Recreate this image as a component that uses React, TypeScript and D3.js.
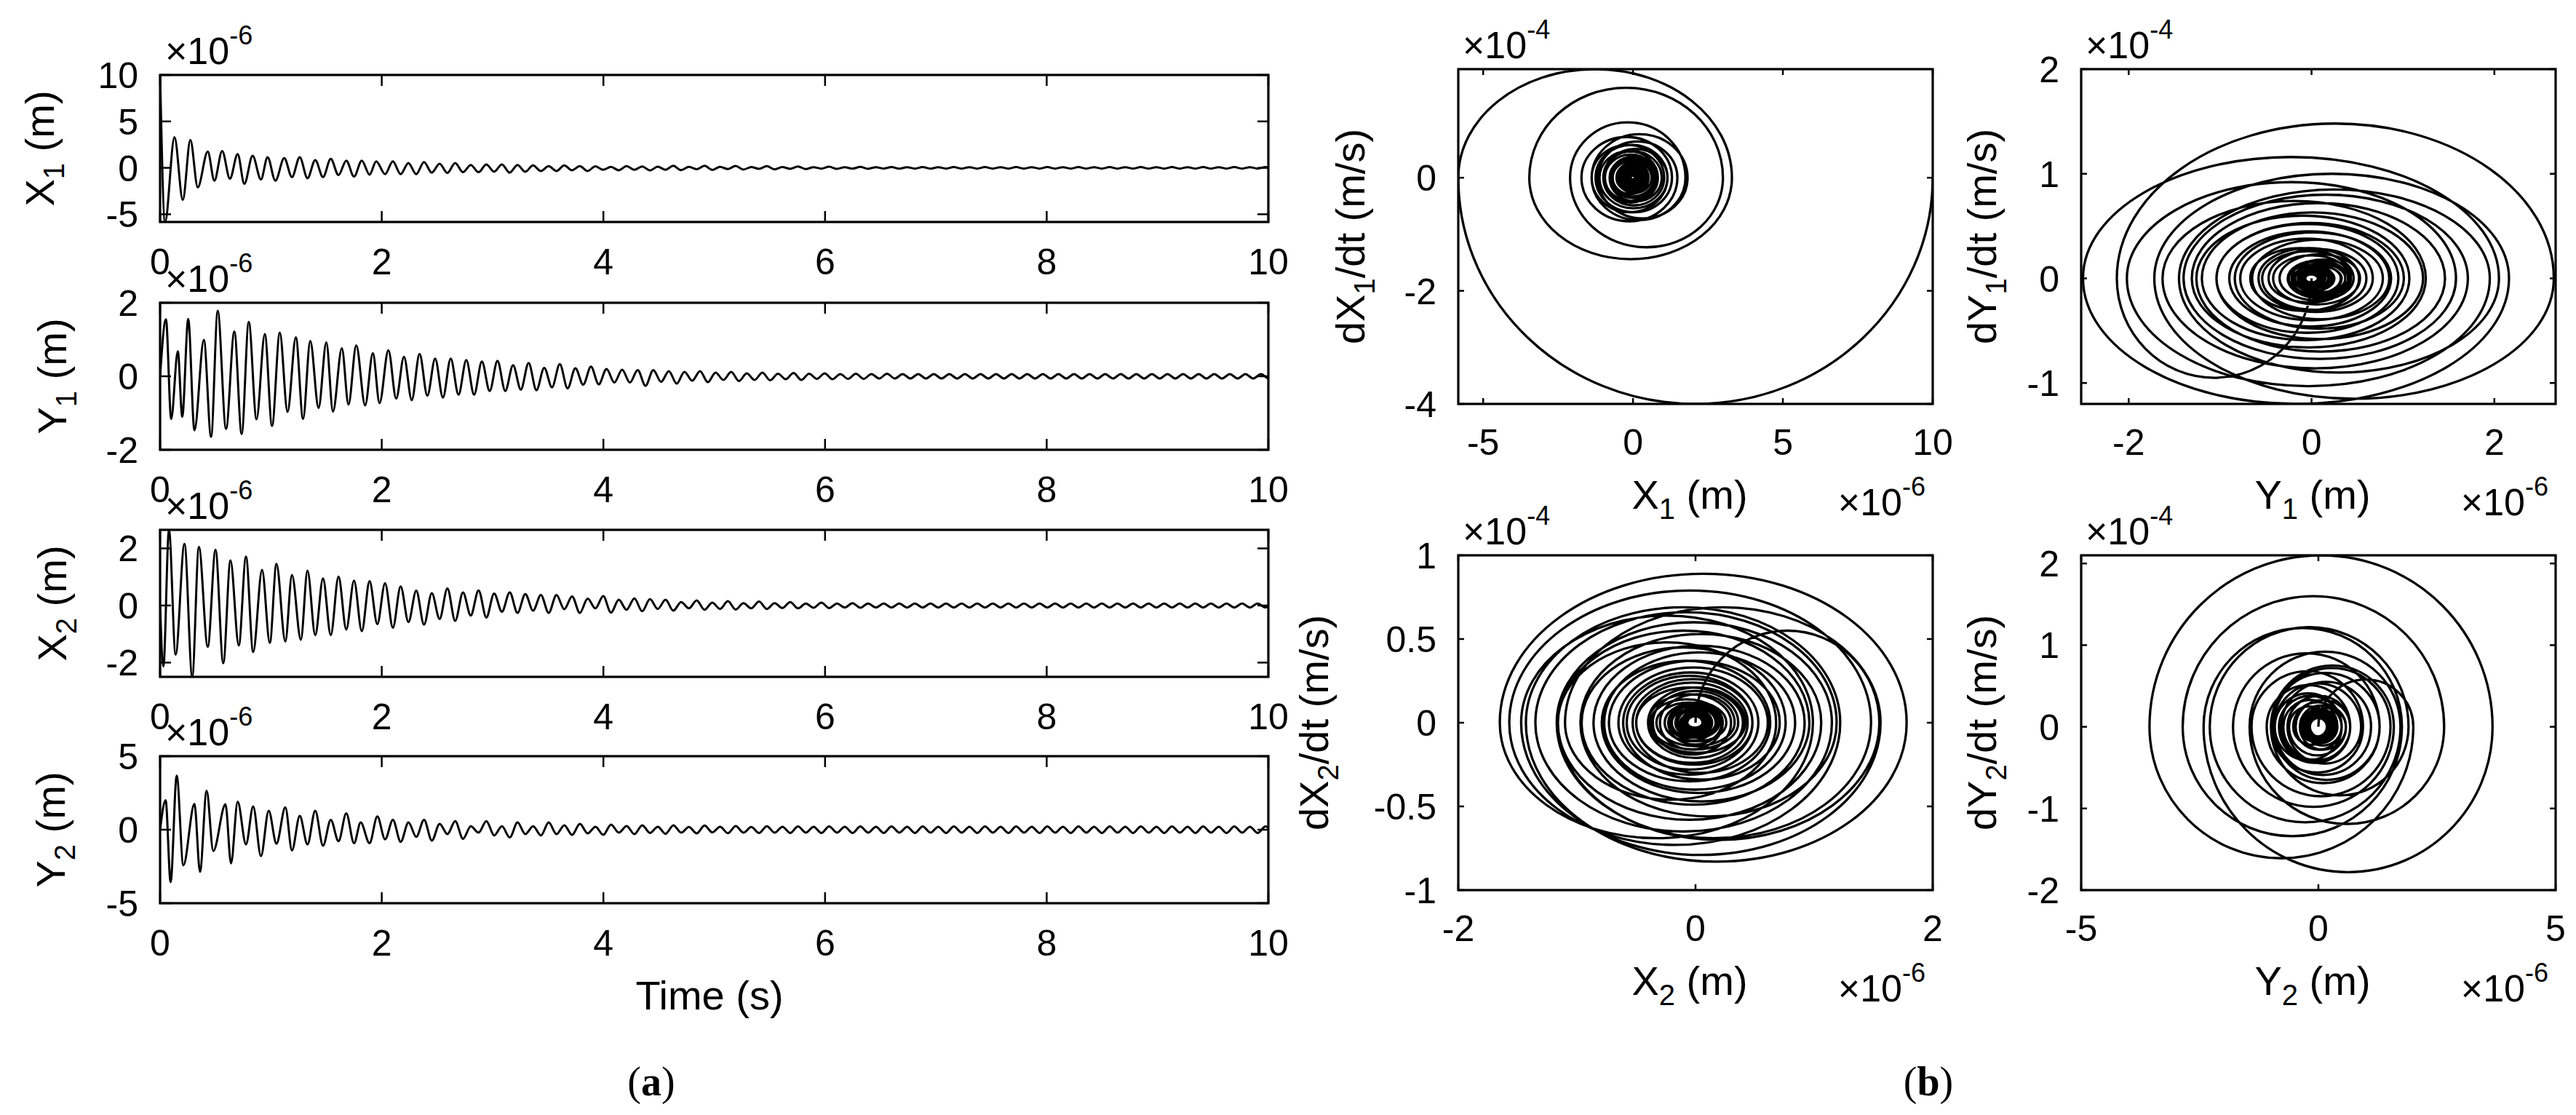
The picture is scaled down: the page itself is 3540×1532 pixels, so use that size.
import React from 'react';
import * as d3 from 'd3';

// ---------------- DATA (values in 1e-6 m and 1e-4 m/s) ----------------
const HALF_PERIOD = 0.0703; // s, spacing of the later extrema

const timeTicks = [0, 2, 4, 6, 8, 10];

// X1 time series extrema
const x1EarlyT = [0, 0.045, 0.13, 0.205, 0.273, 0.34, 0.43, 0.49, 0.56, 0.63, 0.7, 0.76, 0.835, 0.91, 0.97, 1.04, 1.12, 1.19, 1.26, 1.33, 1.4, 1.47, 1.54, 1.61, 1.68, 1.75, 1.82, 1.89, 1.95, 2.03, 2.1];
const x1EarlyV = [10, -5.83, 3.3, -3.46, 3.0, -2.1, 1.75, -1.38, 1.82, -1.17, 1.48, -1.72, 1.3, -1.25, 1.15, -1.38, 1.04, -0.99, 1.15, -1.12, 0.83, -0.99, 0.96, -0.78, 0.78, -0.94, 0.78, -0.73, 0.7, -0.68, 0.7];
const x1Late = [-0.68, 0.52, -0.68, 0.62, -0.52, 0.44, -0.55, 0.52, -0.47, 0.31, -0.47, 0.36, -0.42, 0.36, -0.52, 0.31, -0.42, 0.26, -0.34, 0.18, -0.34, 0.26, -0.26, 0.18, -0.34, 0.16, -0.21, 0.1, -0.26, 0.18, -0.21, 0.15,
  -0.28, 0.12, -0.2, 0.22, -0.25, 0.1, -0.15, 0.22, -0.22, 0.1, -0.12, 0.2, -0.18, 0.08, -0.1, 0.18, -0.16, 0.08, -0.1, 0.15, -0.13, 0.07, -0.08, 0.12, -0.11, 0.06, -0.08, 0.1, -0.1, 0.07,
  -0.08, 0.09, -0.09, 0.07, -0.08, 0.08, -0.09, 0.07, -0.08, 0.08, -0.08, 0.07, -0.08, 0.08, -0.08, 0.07, -0.08, 0.08, -0.08, 0.07, -0.08, 0.08, -0.08, 0.07, -0.08, 0.08, -0.08, 0.07, -0.08, 0.08,
  -0.08, 0.07, -0.08, 0.08, -0.08, 0.07, -0.08, 0.08, -0.08, 0.07, -0.08, 0.08, -0.08, 0.07, -0.08, 0.08, -0.08, 0.07, -0.08, 0.08, -0.08, 0.07, -0.08, 0.08];

// Y1 time series extrema
const y1EarlyT = [0, 0.053, 0.1, 0.16, 0.2, 0.254, 0.31, 0.395, 0.46, 0.52, 0.595, 0.67, 0.736, 0.8, 0.87, 0.945, 1.01, 1.08, 1.15, 1.225, 1.29, 1.355, 1.43, 1.5, 1.56, 1.64, 1.7, 1.77, 1.85, 1.92, 1.98, 2.06];
const y1EarlyV = [0, 1.55, -1.16, 0.68, -1.1, 1.56, -1.47, 0.99, -1.65, 1.78, -1.43, 1.22, -1.57, 1.48, -1.17, 1.15, -1.35, 1.19, -0.97, 1.06, -1.16, 0.96, -0.86, 0.92, -0.96, 0.76, -0.77, 0.84, -0.79, 0.63, -0.73, 0.71];
const y1Late = [-0.61, 0.53, -0.65, 0.61, -0.53, 0.48, -0.58, 0.48, -0.5, 0.44, -0.5, 0.4, -0.4, 0.42, -0.4, 0.3, -0.36, 0.36, -0.38, 0.23, -0.3, 0.33, -0.33, 0.22, -0.23, 0.26, -0.22, 0.2, -0.17, 0.18, -0.17, 0.17, -0.26, 0.17,
  -0.15, 0.14, -0.2, 0.12, -0.12, 0.14, -0.16, 0.1, -0.1, 0.12, -0.13, 0.08, -0.1, 0.1, -0.11, 0.07, -0.08, 0.09, -0.1, 0.07, -0.07, 0.08, -0.08, 0.06, -0.07, 0.07, -0.07, 0.06, -0.06, 0.07,
  -0.06, 0.06, -0.06, 0.06, -0.06, 0.06, -0.06, 0.06, -0.06, 0.06, -0.06, 0.06, -0.06, 0.06, -0.06, 0.06, -0.06, 0.06, -0.06, 0.06, -0.06, 0.06, -0.06, 0.06, -0.06, 0.06, -0.06, 0.06,
  -0.06, 0.06, -0.06, 0.06, -0.06, 0.06, -0.06, 0.06, -0.06, 0.06, -0.06, 0.06, -0.06, 0.06, -0.06, 0.06, -0.06, 0.06, -0.06, 0.06, -0.06, 0.06];

// X2 time series extrema
const x2EarlyT = [0, 0.03, 0.08, 0.14, 0.22, 0.29, 0.35, 0.43, 0.5, 0.57, 0.635, 0.71, 0.775, 0.84, 0.92, 0.99, 1.05, 1.13, 1.19, 1.27, 1.33, 1.4, 1.47, 1.54, 1.61, 1.68, 1.75, 1.82, 1.89, 1.96, 2.03];
const x2EarlyV = [0, -2.13, 2.65, -1.72, 2.16, -2.5, 2.05, -1.45, 1.95, -2.02, 1.58, -1.4, 1.71, -1.63, 1.25, -1.31, 1.46, -1.26, 1.07, -1.2, 1.22, -1.04, 0.95, -1.04, 1.01, -0.84, 0.87, -0.9, 0.85, -0.65, 0.78];
const x2Late = [-0.78, 0.67, -0.58, 0.52, -0.67, 0.43, -0.47, 0.6, -0.54, 0.46, -0.35, 0.53, -0.42, 0.42, -0.22, 0.46, -0.26, 0.4, -0.18, 0.37, -0.26, 0.37, -0.13, 0.32, -0.26, 0.24, -0.1, 0.33, -0.25, 0.2, -0.15, 0.25, -0.2,
  0.22, -0.12, 0.2, -0.18, 0.12, -0.1, 0.18, -0.15, 0.1, -0.12, 0.15, -0.14, 0.08, -0.1, 0.14, -0.12, 0.08, -0.09, 0.12, -0.1, 0.07, -0.08, 0.1, -0.09, 0.07, -0.07, 0.08, -0.08, 0.07, -0.07,
  0.07, -0.07, 0.07, -0.07, 0.07, -0.07, 0.07, -0.07, 0.07, -0.07, 0.07, -0.07, 0.07, -0.07, 0.07, -0.07, 0.07, -0.07, 0.07, -0.07, 0.07, -0.07, 0.07, -0.07, 0.07, -0.07, 0.07, -0.07,
  0.07, -0.07, 0.07, -0.07, 0.07, -0.07, 0.07, -0.07, 0.07, -0.07, 0.07, -0.07, 0.07, -0.07, 0.07, -0.07, 0.07, -0.07, 0.07, -0.07, 0.07, -0.07, 0.07, -0.07];

// Y2 time series extrema
const y2EarlyT = [0, 0.05, 0.095, 0.15, 0.21, 0.31, 0.36, 0.42, 0.48, 0.59, 0.64, 0.7, 0.775, 0.84, 0.91, 0.98, 1.05, 1.13, 1.19, 1.26, 1.33, 1.4, 1.47, 1.54, 1.61, 1.68, 1.75, 1.81, 1.89, 1.96];
const y2EarlyV = [0, 2.0, -3.56, 3.67, -2.42, 1.76, -2.86, 2.65, -1.45, 1.73, -2.29, 1.9, -1.0, 1.59, -1.8, 1.29, -0.95, 1.52, -1.41, 0.94, -1.0, 1.29, -1.09, 0.67, -0.78, 1.11, -0.92, 0.49, -0.92, 0.9];
const y2Late = [-0.65, 0.67, -0.83, 0.49, -0.48, 0.67, -0.74, 0.4, -0.3, 0.58, -0.62, 0.23, -0.2, 0.58, -0.39, 0.23, -0.53, 0.49, -0.3, 0.23, -0.39, 0.49, -0.3, 0.3, -0.35, 0.4, -0.25, 0.2, -0.35, 0.35, -0.2, 0.25, -0.3,
  0.3, -0.22, 0.2, -0.28, 0.3, -0.2, 0.18, -0.25, 0.28, -0.18, 0.2, -0.24, 0.25, -0.2, 0.18, -0.22, 0.24, -0.2, 0.2, -0.22, 0.22, -0.2, 0.2, -0.22, 0.22, -0.2, 0.2, -0.22, 0.22, -0.2,
  0.2, -0.22, 0.22, -0.2, 0.2, -0.22, 0.22, -0.2, 0.2, -0.22, 0.22, -0.2, 0.2, -0.22, 0.22, -0.2, 0.2, -0.22, 0.22, -0.2, 0.2, -0.22, 0.22, -0.2, 0.2, -0.22, 0.22, -0.2,
  0.2, -0.22, 0.22, -0.2, 0.2, -0.22, 0.22, -0.2, 0.2, -0.22, 0.22, -0.2, 0.2, -0.22, 0.22, -0.2, 0.2, -0.22, 0.22, -0.2, 0.2, -0.22, 0.22, -0.2];

// velocity extrema between successive displacement extrema (1e-4 m/s), for the phase portraits
const vX1 = [-4.0, 1.92, -1.44, 1.59, -1.23, 0.98, -0.75, 0.77, -0.72, 0.64, -0.77, 0.72, -0.61, 0.58, -0.61, 0.58, -0.49, 0.51, -0.54, 0.47, -0.44, 0.47, -0.42, 0.37, -0.41, 0.41, -0.36, 0.34, -0.33, 0.33, -0.33, 0.29, -0.29, 0.31, -0.27, 0.23, -0.24, 0.26, -0.24, 0.19, -0.19, 0.2, -0.19, 0.19, -0.21, 0.2, -0.18, 0.16, -0.14, 0.12, -0.12, 0.14, -0.12, 0.11, -0.12, 0.12, -0.09, 0.07, -0.09, 0.11, -0.09, 0.09,
  -0.1, 0.1, -0.08, 0.1, -0.11, 0.08, -0.06, 0.09, -0.11, 0.08, -0.05, 0.08, -0.09, 0.06, -0.04, 0.07, -0.08, 0.06, -0.04, 0.06, -0.07, 0.05, -0.04, 0.05, -0.06, 0.04, -0.03, 0.04, -0.05, 0.04];
const vX2 = [-0.95, 1.48, -1.15, 1.0, -1.2, 1.16, -0.9, 0.85, -1.03, 0.92, -0.77, 0.8, -0.86, 0.74, -0.66, 0.72, -0.7, 0.6, -0.59, 0.63, -0.58, 0.52, -0.52, 0.53, -0.48, 0.44, -0.46, 0.45, -0.39, 0.37, -0.4, 0.38, -0.32, 0.29, -0.31, 0.29, -0.23, 0.28, -0.3, 0.26, -0.21, 0.23, -0.25, 0.22, -0.17, 0.18, -0.19, 0.17, -0.15, 0.14, -0.16, 0.16, -0.13, 0.12, -0.15, 0.13, -0.09, 0.11, -0.15, 0.12, -0.09, 0.1,
  -0.12, 0.11, -0.09, 0.08, -0.1, 0.08, -0.06, 0.07, -0.09, 0.07, -0.06, 0.07, -0.08, 0.06, -0.05, 0.06, -0.07, 0.05, -0.04, 0.05, -0.06, 0.04, -0.04, 0.05, -0.05, 0.04, -0.04, 0.04, -0.04, 0.04];
const vY1 = [0.55, -0.7, 0.48, -0.46, 0.69, -0.79, 0.64, -0.69, 0.89, -0.83, 0.69, -0.73, 0.79, -0.69, 0.6, -0.65, 0.66, -0.56, 0.53, -0.58, 0.55, -0.47, 0.46, -0.49, 0.45, -0.4, 0.42, -0.42, 0.37, -0.35, 0.37, -0.34, 0.3, -0.31, 0.33, -0.3, 0.26, -0.28, 0.28, -0.25, 0.24, -0.24, 0.21, -0.21, 0.21, -0.18, 0.17, -0.19, 0.19, -0.16, 0.14, -0.16, 0.17, -0.14, 0.12, -0.13, 0.12, -0.11, 0.1, -0.09, 0.09, -0.08,
  0.09, -0.11, 0.11, -0.08, 0.08, -0.09, 0.08, -0.06, 0.07, -0.08, 0.07, -0.05, 0.06, -0.07, 0.05, -0.05, 0.05, -0.05, 0.05, -0.04, 0.04, -0.05, 0.04, -0.04, 0.04, -0.04, 0.04, -0.03, 0.04, -0.04];
const vY2 = [0.58, -1.61, 2.1, -1.78, 1.21, -1.34, 1.6, -1.19, 0.92, -1.17, 1.22, -0.84, 0.75, -0.98, 0.9, -0.65, 0.72, -0.85, 0.68, -0.56, 0.66, -0.69, 0.51, -0.42, 0.55, -0.59, 0.41, -0.41, 0.53, -0.45, 0.38, -0.44, 0.38, -0.28, 0.33, -0.41, 0.33, -0.2, 0.26, -0.35, 0.25, -0.12, 0.23, -0.28, 0.18, -0.22, 0.3, -0.23, 0.15, -0.18, 0.26, -0.23, 0.17, -0.19, 0.22, -0.19, 0.13, -0.16, 0.2, -0.16, 0.13, -0.16,
  0.17, -0.15, 0.12, -0.14, 0.17, -0.15, 0.11, -0.12, 0.15, -0.13, 0.11, -0.13, 0.14, -0.13, 0.11, -0.12, 0.13, -0.13, 0.12, -0.12, 0.13, -0.12, 0.12, -0.12, 0.13, -0.12, 0.12, -0.12, 0.13, -0.12];

// axis limits and ticks
const x1Dom = [-5.83, 10]; const x1Ticks = [-5, 0, 5, 10];
const y1Dom = [-2, 2]; const y1Ticks = [-2, 0, 2];
const x2Dom = [-2.5, 2.65]; const x2Ticks = [-2, 0, 2];
const y2Dom = [-5, 5]; const y2Ticks = [-5, 0, 5];

const p1XDom = [-5.83, 10]; const p1XTicks = [-5, 0, 5, 10]; const p1YDom = [-4, 1.92]; const p1YTicks = [-4, -2, 0];
const p2XDom = [-2.52, 2.67]; const p2XTicks = [-2, 0, 2]; const p2YDom = [-1.2, 2]; const p2YTicks = [-1, 0, 1, 2];
const p3XDom = [-2, 2]; const p3XTicks = [-2, 0, 2]; const p3YDom = [-1, 1]; const p3YTicks = [-1, -0.5, 0, 0.5, 1];
const p4XDom = [-5, 5]; const p4XTicks = [-5, 0, 5]; const p4YDom = [-2, 2.1]; const p4YTicks = [-2, -1, 0, 1, 2];

// ---------------- LAYOUT ----------------
const W = 3540, HGT = 1532;
const FONT = '"Liberation Sans", Arial, Helvetica, sans-serif';
const TL = 220, TR = 1743, TH = 202;
const T_TOPS = [103, 416, 728, 1039];
const PW = 652, PH = 460;
const P_LEFTS = [2004, 2860];
const P_TOPS = [95, 763];
const TICK_FS = 50, LABEL_FS = 56, SUB_FS = 40, EXP_FS = 52, SUP_FS = 36;
const KAPPA = 0.5523; // quarter-ellipse bezier handle ratio

function buildSeries(earlyT: number[], earlyV: number[], late: number[]) {
  const pts: [number, number][] = earlyT.map((t, i) => [t, earlyV[i]]);
  const t0 = earlyT[earlyT.length - 1];
  late.forEach((v, i) => pts.push([t0 + (i + 1) * HALF_PERIOD, v]));
  return pts;
}

// points alternate: displacement extremum (x, 0) then velocity extremum (xm, v)
function buildPhase(earlyV: number[], late: number[], vs: number[]) {
  const xs = earlyV.concat(late);
  const n = Math.min(xs.length - 1, vs.length);
  const pts: [number, number][] = [];
  for (let k = 0; k < n; k++) {
    pts.push([xs[k], 0]);
    pts.push([(xs[k] + xs[k + 1]) / 2, vs[k]]);
  }
  pts.push([xs[n], 0]);
  return pts;
}

// quarter-ellipse arcs through the extrema, via d3.path
function phasePath(pts: [number, number][], xs: any, ys: any) {
  const p = d3.path();
  p.moveTo(xs(pts[0][0]), ys(pts[0][1]));
  for (let i = 0; i + 1 < pts.length; i++) {
    const [ax, ay] = pts[i];
    const [bx, by] = pts[i + 1];
    let c1x, c1y, c2x, c2y;
    if (i % 2 === 0) {
      c1x = ax; c1y = ay + KAPPA * (by - ay);
      c2x = bx + KAPPA * (ax - bx); c2y = by;
    } else {
      c1x = ax + KAPPA * (bx - ax); c1y = ay;
      c2x = bx; c2y = by + KAPPA * (ay - by);
    }
    p.bezierCurveTo(xs(c1x), ys(c1y), xs(c2x), ys(c2y), xs(bx), ys(by));
  }
  return p.toString();
}

const fmt = (v: number) => String(v);

function Exponent({ x, y, power, anchor = 'start' }: any) {
  return (
    <text x={x} y={y} fontSize={EXP_FS} textAnchor={anchor} fontFamily={FONT}>
      ×10<tspan dy={-27} fontSize={SUP_FS}>{power}</tspan>
    </text>
  );
}

function RotLabel({ x, y, main, sub, rest }: any) {
  return (
    <text transform={`translate(${x},${y}) rotate(-90)`} textAnchor="middle" fontSize={LABEL_FS} fontFamily={FONT}>
      {main}<tspan dy={14} fontSize={SUB_FS}>{sub}</tspan><tspan dy={-14}>{rest}</tspan>
    </text>
  );
}

function Axes({ id, left, top, width, height, xs, ys, xTicks, yTicks, tickLen, xTickBase, children }: any) {
  const bottom = top + height, right = left + width;
  return (
    <g>
      <defs>
        <clipPath id={id}><rect x={left} y={top} width={width} height={height} /></clipPath>
      </defs>
      <g clipPath={`url(#${id})`}>{children}</g>
      {xTicks.map((t: number) => (
        <g key={'x' + t}>
          <line x1={xs(t)} x2={xs(t)} y1={bottom} y2={bottom - tickLen} stroke="#000" strokeWidth={2.5} />
          <line x1={xs(t)} x2={xs(t)} y1={top} y2={top + tickLen} stroke="#000" strokeWidth={2.5} />
          <text x={xs(t)} y={bottom + xTickBase} textAnchor="middle" fontSize={TICK_FS} fontFamily={FONT}>{fmt(t)}</text>
        </g>
      ))}
      {yTicks.map((t: number) => (
        <g key={'y' + t}>
          <line x1={left} x2={left + tickLen} y1={ys(t)} y2={ys(t)} stroke="#000" strokeWidth={2.5} />
          <line x1={right} x2={right - tickLen} y1={ys(t)} y2={ys(t)} stroke="#000" strokeWidth={2.5} />
          <text x={left - 30} y={ys(t)} dy="0.36em" textAnchor="end" fontSize={TICK_FS} fontFamily={FONT}>{fmt(t)}</text>
        </g>
      ))}
      <rect x={left} y={top} width={width} height={height} fill="none" stroke="#000" strokeWidth={3.2} />
    </g>
  );
}

function TimePlot({ idx, data, dom, ticks, main, sub, labelX }: any) {
  const top = T_TOPS[idx];
  const xs = d3.scaleLinear().domain([0, 10]).range([TL, TR]);
  const ys = d3.scaleLinear().domain(dom).range([top + TH, top]);
  const line = d3.line<[number, number]>().x(d => xs(d[0])).y(d => ys(d[1])).curve(d3.curveMonotoneX);
  return (
    <g>
      <Axes id={'tclip' + idx} left={TL} top={top} width={TR - TL} height={TH} xs={xs} ys={ys}
        xTicks={timeTicks} yTicks={ticks} tickLen={15} xTickBase={72}>
        <path d={line(data) || ''} fill="none" stroke="#000" strokeWidth={3} strokeLinejoin="round" />
      </Axes>
      <Exponent x={TL + 7} y={top - 15} power="-6" />
      <RotLabel x={labelX} y={top + TH / 2} main={main} sub={sub} rest=" (m)" />
    </g>
  );
}

function PhasePlot({ row, col, data, xDom, xTicks, yDom, yTicks, xMain, yMain, sub, yLabelX }: any) {
  const left = P_LEFTS[col], top = P_TOPS[row];
  const xs = d3.scaleLinear().domain(xDom).range([left, left + PW]);
  const ys = d3.scaleLinear().domain(yDom).range([top + PH, top]);
  return (
    <g>
      <Axes id={`pclip${row}${col}`} left={left} top={top} width={PW} height={PH} xs={xs} ys={ys}
        xTicks={xTicks} yTicks={yTicks} tickLen={8} xTickBase={70}>
        <path d={phasePath(data, xs, ys)} fill="none" stroke="#000" strokeWidth={3.3} strokeLinejoin="round" />
      </Axes>
      <Exponent x={left + 6} y={top - 15} power="-4" />
      <Exponent x={left + PW - 10} y={top + PH + 153} power="-6" anchor="end" />
      <text x={left + PW / 2 - 8} y={top + PH + 144} textAnchor="middle" fontSize={LABEL_FS} fontFamily={FONT}>
        {xMain}<tspan dy={14} fontSize={SUB_FS}>{sub}</tspan><tspan dy={-14}> (m)</tspan>
      </text>
      <RotLabel x={yLabelX} y={top + PH / 2} main={'d' + yMain} sub={sub} rest="/dt (m/s)" />
    </g>
  );
}

export default function App() {
  const sX1 = buildSeries(x1EarlyT, x1EarlyV, x1Late);
  const sY1 = buildSeries(y1EarlyT, y1EarlyV, y1Late);
  const sX2 = buildSeries(x2EarlyT, x2EarlyV, x2Late);
  const sY2 = buildSeries(y2EarlyT, y2EarlyV, y2Late);
  const phX1 = buildPhase(x1EarlyV, x1Late, vX1);
  const phX2 = buildPhase(x2EarlyV, x2Late, vX2);
  const phY1 = buildPhase(y1EarlyV, y1Late, vY1);
  const phY2 = buildPhase(y2EarlyV, y2Late, vY2);
  return (
    <svg width={W} height={HGT} viewBox={`0 0 ${W} ${HGT}`}
      style={{ position: 'absolute', left: 0, top: 0, background: '#fff' }}>
      <rect x={0} y={0} width={W} height={HGT} fill="#fff" />
      <TimePlot idx={0} data={sX1} dom={x1Dom} ticks={x1Ticks} main="X" sub="1" labelX={74} />
      <TimePlot idx={1} data={sY1} dom={y1Dom} ticks={y1Ticks} main="Y" sub="1" labelX={91} />
      <TimePlot idx={2} data={sX2} dom={x2Dom} ticks={x2Ticks} main="X" sub="2" labelX={91} />
      <TimePlot idx={3} data={sY2} dom={y2Dom} ticks={y2Ticks} main="Y" sub="2" labelX={89} />
      <text x={975} y={1387} textAnchor="middle" fontSize={LABEL_FS} fontFamily={FONT}>Time (s)</text>

      <PhasePlot row={0} col={0} data={phX1} xDom={p1XDom} xTicks={p1XTicks} yDom={p1YDom} yTicks={p1YTicks} xMain="X" yMain="X" sub="1" yLabelX={1875} />
      <PhasePlot row={0} col={1} data={phX2} xDom={p2XDom} xTicks={p2XTicks} yDom={p2YDom} yTicks={p2YTicks} xMain="Y" yMain="Y" sub="1" yLabelX={2743} />
      <PhasePlot row={1} col={0} data={phY1} xDom={p3XDom} xTicks={p3XTicks} yDom={p3YDom} yTicks={p3YTicks} xMain="X" yMain="X" sub="2" yLabelX={1825} />
      <PhasePlot row={1} col={1} data={phY2} xDom={p4XDom} xTicks={p4XTicks} yDom={p4YDom} yTicks={p4YTicks} xMain="Y" yMain="Y" sub="2" yLabelX={2743} />

      <text x={895} y={1505} textAnchor="middle" fontSize={56} fontFamily='"Liberation Serif", "DejaVu Serif", serif'>
        (<tspan fontWeight="bold">a</tspan>)
      </text>
      <text x={2650} y={1505} textAnchor="middle" fontSize={56} fontFamily='"Liberation Serif", "DejaVu Serif", serif'>
        (<tspan fontWeight="bold">b</tspan>)
      </text>
    </svg>
  );
}
